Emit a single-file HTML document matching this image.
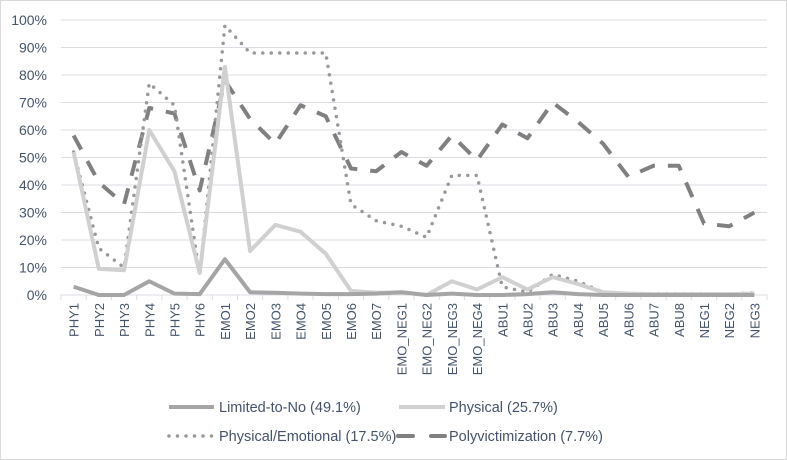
<!DOCTYPE html>
<html><head><meta charset="utf-8"><style>
body{margin:0;background:#fff}
svg{display:block;font-family:"Liberation Sans",sans-serif}
</style></head><body>
<svg id="c" width="787" height="460">
<rect x="0.5" y="0.5" width="786" height="459" fill="#fff" stroke="#d9d9d9"/>
<g id="grid"></g><g id="ylab"></g><g id="xlab"></g><g id="series"></g>
<g font-size="14.5" fill="#44546a">
<line x1="169" y1="407" x2="214" y2="407" stroke="#a5a5a5" stroke-width="4"/>
<text x="219" y="412">Limited-to-No (49.1%)</text>
<line x1="399" y1="407" x2="445" y2="407" stroke="#d0d0d0" stroke-width="4"/>
<text x="449" y="412">Physical (25.7%)</text>
<line x1="169" y1="436" x2="214" y2="436" stroke="#999" stroke-width="3.5" stroke-dasharray="0 8.5" stroke-linecap="round"/>
<text x="219" y="441">Physical/Emotional (17.5%)</text>
<line x1="398" y1="436" x2="413" y2="436" stroke="#808080" stroke-width="4" stroke-linecap="round"/>
<line x1="431" y1="436" x2="445" y2="436" stroke="#808080" stroke-width="4" stroke-linecap="round"/>
<text x="449" y="441">Polyvictimization (7.7%)</text>
</g>
</svg>
<script>
const categories=["PHY1","PHY2","PHY3","PHY4","PHY5","PHY6","EMO1","EMO2","EMO3","EMO4","EMO5","EMO6","EMO7","EMO_NEG1","EMO_NEG2","EMO_NEG3","EMO_NEG4","ABU1","ABU2","ABU3","ABU4","ABU5","ABU6","ABU7","ABU8","NEG1","NEG2","NEG3"];
const limited=[3,0,0,5,0.5,0.3,13,1,0.8,0.5,0.3,0.3,0.5,1,0,0.5,0,0,0.3,1,0.3,0,0,0,0,0,0,0];
const physical=[52,9.5,9,60,45,8,83,16,25.5,23,15,1.5,0.8,1,0,5,2,6.5,2,6.5,4,1,0.5,0.3,0.3,0.3,0.3,0.5];
const physEmo=[52,17,10,77,69,7,98,88,88,88,88,33,27,25,21,43.5,43.5,3,1,7.5,5,1,0.5,0.5,0.5,0.5,0.3,0.8];
const poly=[58,41,33,68,66,38,78,64,55,69,65,46,45,52,47,58,49,62,57,70,63,55,43,47,47,26,25,30];
const yTicks=[0,10,20,30,40,50,60,70,80,90,100];
const NS="http://www.w3.org/2000/svg";
const X0=61,X1=767,Y0=295,Y1=20;
const band=(X1-X0)/categories.length;
const x=i=>X0+band*(i+0.5);
const y=v=>Y0-(v/100)*(Y0-Y1);
function mk(t,a,p){const e=document.createElementNS(NS,t);for(const k in a)e.setAttribute(k,a[k]);p.appendChild(e);return e;}
const grid=document.getElementById('grid'),ylab=document.getElementById('ylab'),xlab=document.getElementById('xlab'),ser=document.getElementById('series');
yTicks.forEach(t=>{
 const l=mk('line',{x1:X0,x2:X1,y1:y(t),y2:y(t),stroke:'#d9dde3','stroke-width':1},grid);
 
 
 const tx=mk('text',{x:47,y:y(t)+5,'text-anchor':'end','font-size':14,fill:'#44546a'},ylab);
 tx.textContent=t+'%';
 
 
});
for(let i=0;i<=categories.length;i++){
 const l=mk('line',{x1:X0+band*i,x2:X0+band*i,y1:Y0,y2:Y0+5,stroke:'#d9dde3'},grid);
 
 
}
categories.forEach((c,i)=>{
 const tx=mk('text',{transform:`translate(${x(i)+5},303) rotate(-90)`,'text-anchor':'end','font-size':13,fill:'#44546a'},xlab);
 tx.textContent=c;
 
 
});
function line(d,attrs,name){
 const p=mk('polyline',Object.assign({points:d.map((v,i)=>x(i)+','+y(v)).join(' '),fill:'none','stroke-linejoin':'round'},attrs),ser);
 
 
}
line(poly,{stroke:'#808080','stroke-width':4,'stroke-dasharray':'16 13'},'series-polyvictimization');
line(physEmo,{stroke:'#999','stroke-width':3.5,'stroke-dasharray':'0 8.5','stroke-linecap':'round'},'series-physical-emotional');
line(physical,{stroke:'#d0d0d0','stroke-width':4},'series-physical');
line(limited,{stroke:'#a5a5a5','stroke-width':4},'series-limited-to-no');
</script>
</body></html>
